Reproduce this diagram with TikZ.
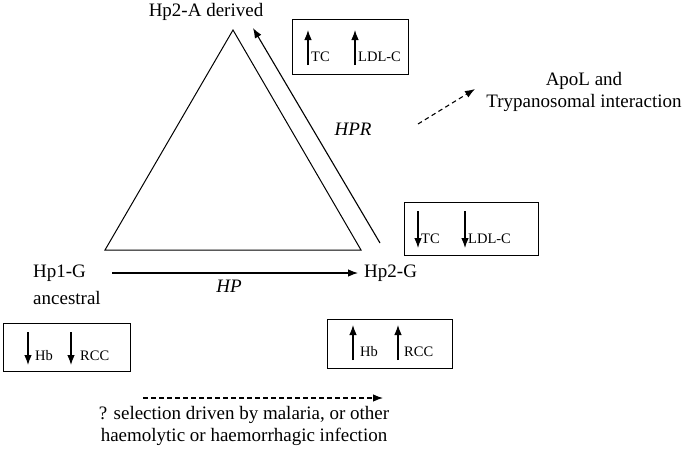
\documentclass[tikz,border=0pt]{standalone}
\usepackage{fontspec}
\setmainfont{Liberation Serif}
\usetikzlibrary{arrows.meta}
\begin{document}
\begin{tikzpicture}[x=1pt,y=-1pt,
  lbl/.style={inner sep=0pt,font=\fontsize{19}{21.5}\selectfont},
  ital/.style={inner sep=0pt,font=\fontsize{19}{21.5}\selectfont\itshape},
  sml/.style={inner sep=0pt,anchor=west,font=\fontsize{14.5}{16}\selectfont},
  boxed/.style={draw,line width=1pt},
  arr/.style={line width=1.1pt,-{Latex[length=10pt,width=7.5pt]}},
  darr/.style={line width=1.1pt,dash pattern=on 4.5pt off 3.5pt,-{Latex[length=10pt,width=7.5pt]}}]
\useasboundingbox (0,0) rectangle (692,453);
% triangle
\coordinate (apex) at (233,30);
\coordinate (bl) at (105,250);
\coordinate (br) at (361,250);
\draw[line width=1pt] (apex) -- (bl) -- (br) -- cycle;
% HPR arrow
\coordinate (hprs) at (380,243);
\coordinate (hpre) at (253,28);
\draw[arr] (hprs) -- (hpre);
\node[ital] (hpr) at (353,129) {HPR};
% labels
\node[lbl] (hp2a) at (206,12) {Hp2-A derived};
\node[lbl,align=center] (apol) at (584,92) {ApoL and\\Trypanosomal interaction};
\coordinate (ds) at (418,124);
\coordinate (de) at (475,89);
\draw[darr] (ds) -- (de);
% top box
\node[boxed,minimum width=116pt,minimum height=55pt,inner sep=0pt] (box1) at (350,46.5) {};
\coordinate (a1s) at (308,65); \coordinate (a1e) at (308,30);
\coordinate (a2s) at (355,65); \coordinate (a2e) at (355,30);
\draw[arr] (a1s) -- (a1e);
\draw[arr] (a2s) -- (a2e);
\node[sml] (tc1) at (311,57) {TC};
\node[sml] (ldl1) at (358,57) {LDL-C};
% right box (down)
\node[boxed,minimum width=134pt,minimum height=53pt,inner sep=0pt] (box2) at (471,228.5) {};
\coordinate (b1s) at (418,211); \coordinate (b1e) at (418,248);
\coordinate (b2s) at (465,211); \coordinate (b2e) at (465,248);
\draw[arr] (b1s) -- (b1e);
\draw[arr] (b2s) -- (b2e);
\node[sml] (tc2) at (421,239) {TC};
\node[sml] (ldl2) at (468,239) {LDL-C};
% Hp1-G, Hp2-G
\node[lbl,anchor=west] (hp1) at (33,273) {Hp1-G};
\node[lbl,anchor=west] (anc) at (33,298) {ancestral};
\node[lbl,anchor=west] (hp2) at (364,273) {Hp2-G};
\coordinate (hps) at (112,273);
\coordinate (hpe) at (358,273);
\draw[arr] (hps) -- (hpe);
\node[ital] (hp) at (229,286) {HP};
% bottom left box
\node[boxed,minimum width=127pt,minimum height=48pt,inner sep=0pt] (box3) at (66.5,347) {};
\coordinate (c1s) at (28,332); \coordinate (c1e) at (28,365);
\coordinate (c2s) at (71,332); \coordinate (c2e) at (71,365);
\draw[arr] (c1s) -- (c1e);
\draw[arr] (c2s) -- (c2e);
\node[sml] (hb3) at (35,356) {Hb};
\node[sml] (rcc3) at (80,356) {RCC};
% bottom right box
\node[boxed,minimum width=125pt,minimum height=49pt,inner sep=0pt] (box4) at (389.5,343.5) {};
\coordinate (d1s) at (353,360); \coordinate (d1e) at (353,325);
\coordinate (d2s) at (398,360); \coordinate (d2e) at (398,325);
\draw[arr] (d1s) -- (d1e);
\draw[arr] (d2s) -- (d2e);
\node[sml] (hb4) at (360,352) {Hb};
\node[sml] (rcc4) at (404,352) {RCC};
% bottom dashed
\coordinate (es) at (143,398);
\coordinate (ee) at (383,398);
\draw[darr] (es) -- (ee);
\node[lbl,align=center] (sel) at (244,426) {? selection driven by malaria, or other\\haemolytic or haemorrhagic infection};
\end{tikzpicture}
\end{document}
